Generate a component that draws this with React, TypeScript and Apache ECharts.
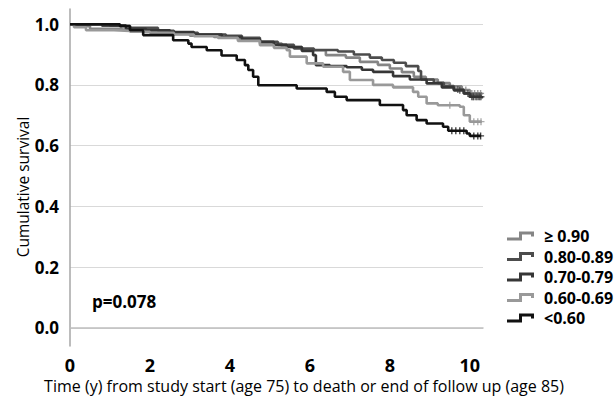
import React, { useEffect, useRef } from "react";
import * as echarts from "echarts";

const groupNames = ["≥ 0.90", "0.80-0.89", "0.70-0.79", "0.60-0.69", "<0.60"];
const groupColors = ["#858585", "#4c4c4c", "#363636", "#999999", "#111111"];

const timesA90 = [0, 0.2, 0.5, 1.3, 1.6, 2.3, 3.0, 3.6, 4.2, 4.75, 5.3, 5.8, 6.4, 6.9, 7.25, 7.7, 8.0, 8.3, 8.6, 8.9, 9.2, 9.5, 9.8, 10.0, 10.3];
const survA90 = [1, 0.993, 0.985, 0.982, 0.975, 0.968, 0.962, 0.958, 0.95, 0.936, 0.925, 0.914, 0.898, 0.89, 0.876, 0.866, 0.854, 0.842, 0.827, 0.818, 0.806, 0.795, 0.783, 0.772, 0.768];

const times80 = [0, 0.8, 1.5, 2.2, 2.6, 3.2, 3.9, 4.3, 4.75, 5.2, 5.6, 6.1, 6.7, 7.1, 7.5, 7.8, 8.1, 8.4, 8.71, 8.78, 9.1, 9.35, 9.6, 9.85, 10.0, 10.3];
const surv80 = [1, 0.995, 0.988, 0.978, 0.972, 0.966, 0.962, 0.955, 0.942, 0.932, 0.92, 0.915, 0.91, 0.9, 0.89, 0.882, 0.873, 0.862, 0.846, 0.818, 0.807, 0.796, 0.785, 0.772, 0.761, 0.755];

const times70 = [0, 1.0, 1.4, 1.9, 2.5, 3.1, 3.8, 4.3, 4.75, 5.1, 5.42, 5.8, 6.08, 6.15, 6.5, 6.92, 7.3, 7.58, 8.08, 8.5, 8.92, 9.3, 9.6, 9.85, 10.0, 10.3];
const surv70 = [1, 0.996, 0.985, 0.98, 0.974, 0.966, 0.958, 0.95, 0.942, 0.932, 0.925, 0.912, 0.898, 0.865, 0.862, 0.858, 0.85, 0.843, 0.829, 0.818, 0.805, 0.792, 0.782, 0.772, 0.761, 0.757];

const times60 = [0, 0.1, 0.4, 1.1, 1.5, 2.0, 2.6, 3.1, 3.7, 4.2, 4.75, 5.1, 5.42, 5.5, 5.92, 6.33, 6.83, 7.0, 7.58, 8.08, 8.58, 8.71, 8.92, 9.2, 9.75, 9.85, 10.0, 10.3];
const surv60 = [1, 0.99, 0.98, 0.978, 0.975, 0.972, 0.966, 0.96, 0.955, 0.945, 0.931, 0.922, 0.914, 0.893, 0.871, 0.86, 0.843, 0.816, 0.8, 0.792, 0.777, 0.761, 0.739, 0.733, 0.728, 0.7, 0.679, 0.679];

const timesLow = [0, 1.25, 1.5, 1.83, 2.58, 2.96, 3.04, 3.42, 3.79, 4.17, 4.375, 4.46, 4.58, 4.71, 5.67, 6.42, 6.625, 6.92, 7.75, 8.33, 8.42, 8.67, 8.92, 9.33, 9.46, 9.92, 10.0, 10.28];
const survLow = [1, 0.993, 0.98, 0.964, 0.947, 0.936, 0.925, 0.914, 0.897, 0.882, 0.865, 0.849, 0.827, 0.799, 0.788, 0.777, 0.761, 0.75, 0.734, 0.717, 0.7, 0.684, 0.673, 0.662, 0.649, 0.64, 0.632, 0.632];

const censorA90 = [9.9, 10.05, 10.12, 10.2, 10.27];
const censor80 = [9.7, 9.95, 10.08, 10.15, 10.22, 10.28];
const censor70 = [9.75, 10.05, 10.1, 10.18, 10.25];
const censor60 = [9.5, 10.1, 10.2, 10.28];
const censorLow = [9.55, 9.65, 9.75, 9.85, 10.1, 10.2, 10.27];

const xTicks = [0, 2, 4, 6, 8, 10];
const yTicks = [0, 0.2, 0.4, 0.6, 0.8, 1.0];

const groupTimes = [timesA90, times80, times70, times60, timesLow];
const groupSurv = [survA90, surv80, surv70, surv60, survLow];
const groupCensor = [censorA90, censor80, censor70, censor60, censorLow];

const legendIcon = "path://M0,6 L12,6 L12,0 L27,0 L27,5 L24,5 L24,3 L15,3 L15,9 L0,9 Z";
const crossIcon = "path://M4,0 L6,0 L6,4 L10,4 L10,6 L6,6 L6,10 L4,10 L4,6 L0,6 L0,4 L4,4 Z";

function survAt(times: number[], surv: number[], t: number): number {
  let v = surv[0];
  for (let i = 0; i < times.length; i++) {
    if (times[i] <= t) v = surv[i];
  }
  return v;
}

export default function App() {
  const ref = useRef<HTMLDivElement>(null);
  useEffect(() => {
    if (!ref.current) return;
    const chart = echarts.init(ref.current, null, { renderer: "svg" });
    const order = [3, 0, 2, 1, 4];
    const lineSeries: any[] = order.map((g) => ({
      type: "line",
      name: groupNames[g],
      step: "end",
      showSymbol: false,
      symbol: "none",
      z: 3 + g,
      lineStyle: { color: groupColors[g], width: 2.6 },
      itemStyle: { color: groupColors[g], borderWidth: 0 },
      data: groupTimes[g].map((t, i) => [t, groupSurv[g][i]]),
    }));
    const censorSeries: any[] = order.map((g) => ({
      type: "scatter",
      name: groupNames[g] + " censored",
      symbol: crossIcon,
      symbolSize: 7,
      z: 3 + g,
      itemStyle: { color: groupColors[g] },
      data: groupCensor[g].map((t) => [t, survAt(groupTimes[g], groupSurv[g], t)]),
    }));
    chart.setOption({
      animation: false,
      grid: { left: 70, top: 9, right: 133, bottom: 53 },
      xAxis: {
        type: "value",
        min: 0,
        max: 10.33,
        interval: 2,
        axisLine: { show: true, lineStyle: { color: "#bfbfbf", width: 1.5 } },
        axisTick: { show: false, customValues: xTicks },
        splitLine: { show: false },
        axisLabel: {
          customValues: xTicks,
          color: "#000",
          fontWeight: "bold",
          fontSize: 18,
          fontFamily: "Open Sans",
          margin: 10,
        },
      },
      yAxis: {
        type: "value",
        min: -0.06,
        max: 1.05,
        axisLine: { show: true, lineStyle: { color: "#a6a6a6", width: 1.5 } },
        axisTick: { show: false, customValues: yTicks },
        splitLine: { show: true, lineStyle: { color: "#d9d9d9", width: 1.2 } },
        axisLabel: {
          customValues: yTicks,
          formatter: (v: number) => v.toFixed(1),
          color: "#000",
          fontWeight: "bold",
          fontSize: 17,
          fontFamily: "Open Sans",
          margin: 11,
        },
      },
      legend: {
        data: groupNames,
        orient: "vertical",
        left: 502,
        top: 223,
        itemGap: 4.5,
        itemWidth: 27,
        itemHeight: 9,
        icon: legendIcon,
        itemStyle: { borderWidth: 0 },
        textStyle: { color: "#000", fontWeight: "bold", fontSize: 16, fontFamily: "Open Sans", padding: [0, 0, 0, 5] },
      },
      graphic: [
        {
          type: "text",
          left: 92,
          top: 293,
          style: { text: "p=0.078", fill: "#000", font: "bold 17px 'Open Sans'" },
        },
        {
          type: "text",
          x: 304,
          y: 386,
          style: {
            text: "Time (y) from study start (age 75) to death or end of follow up (age 85)",
            fill: "#000",
            font: "16px 'Open Sans'",
            textAlign: "center",
            textVerticalAlign: "middle",
          },
        },
        {
          type: "text",
          x: 23,
          y: 187,
          rotation: Math.PI / 2,
          style: {
            text: "Cumulative survival",
            fill: "#000",
            font: "15.5px 'Open Sans'",
            textAlign: "center",
            textVerticalAlign: "middle",
          },
        },
      ],
      series: [...lineSeries, ...censorSeries],
    });
    return () => chart.dispose();
  }, []);
  return <div ref={ref} style={{ width: 616, height: 399, position: "absolute", left: 0, top: 0 }} />;
}
